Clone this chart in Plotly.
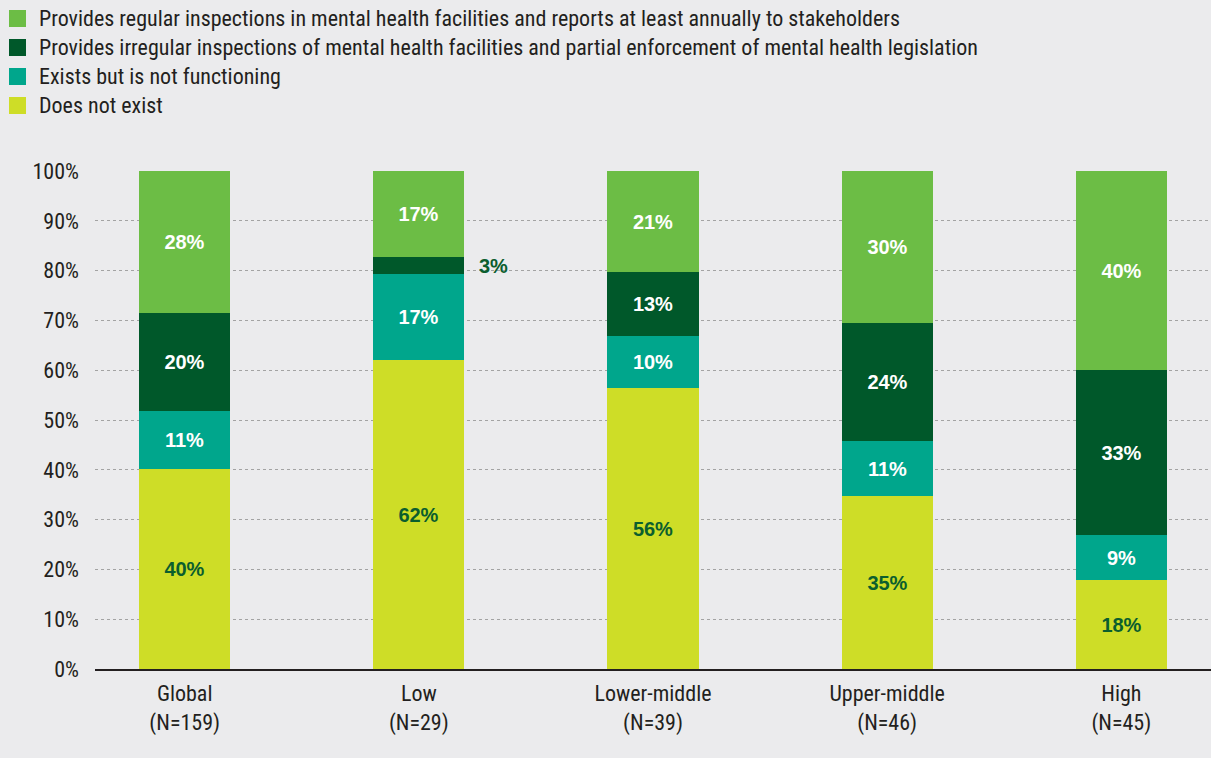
import plotly.graph_objects as go

categories = ["Global<br>(N=159)", "Low<br>(N=29)", "Lower-middle<br>(N=39)",
              "Upper-middle<br>(N=46)", "High<br>(N=45)"]

series_names = [
    "Does not exist",
    "Exists but is not functioning",
    "Provides irregular inspections of mental health facilities and partial enforcement of mental health legislation",
    "Provides regular inspections in mental health facilities and reports at least annually to stakeholders",
]

does_not_exist = [40.2, 62.0, 56.4, 34.7, 17.9]
not_functioning = [11.6, 17.3, 10.5, 11.1, 9.0]
irregular = [19.7, 3.4, 12.8, 23.7, 33.1]
regular = [28.5, 17.3, 20.3, 30.5, 40.0]

labels_dne = ["40%", "62%", "56%", "35%", "18%"]
labels_nf = ["11%", "17%", "10%", "11%", "9%"]
labels_irr = ["20%", "3%", "13%", "24%", "33%"]
labels_reg = ["28%", "17%", "21%", "30%", "40%"]

colors = ["#cedd27", "#00a68c", "#00582a", "#6cbd45"]
text_colors = ["#0b5e2e", "#ffffff", "#ffffff", "#ffffff"]

values = [does_not_exist, not_functioning, irregular, regular]
labels = [labels_dne, labels_nf, labels_irr, labels_reg]

BG = "#ebebed"
TICKFONT = "Liberation Sans Narrow, Roboto Condensed, Arial Narrow, Liberation Sans, sans-serif"
LABELFONT = "Liberation Sans, Arial, Helvetica, sans-serif"

fig = go.Figure()
for i, (name, vals, labs) in enumerate(zip(series_names, values, labels)):
    shown = list(labs)
    if i == 2:
        # the 3% segment of "Low" is labelled outside the bar
        shown[1] = ""
    fig.add_trace(go.Bar(
        x=categories, y=vals, name=name,
        marker=dict(color=colors[i], line=dict(width=0)),
        text=shown, textposition="inside", insidetextanchor="middle",
        textangle=0, constraintext="none",
        textfont=dict(family=LABELFONT, size=20, color=text_colors[i], weight="bold"),
        width=0.389, showlegend=False, hoverinfo="skip",
    ))

# outside label for the small Low segment
fig.add_annotation(
    x=categories[1], y=does_not_exist[1] + not_functioning[1] + irregular[1] / 2,
    text="<b>" + labels_irr[1] + "</b>", showarrow=False, xshift=75,
    font=dict(family=LABELFONT, size=20, color="#0b5e2e"),
)

# manual legend (large squares) in the order shown on the chart
legend_order = [3, 2, 1, 0]
row_h = 29
for k, idx in enumerate(legend_order):
    yc = 18.5 + k * row_h
    fig.add_shape(type="rect", xref="paper", yref="paper",
                  x0=(9 - 95) / 1116, x1=(26 - 95) / 1116,
                  y0=(669 - (yc - 8.5)) / 498, y1=(669 - (yc + 8.5)) / 498,
                  fillcolor=colors[idx], line=dict(width=0))
    fig.add_annotation(xref="paper", yref="paper",
                       x=(37 - 95) / 1116, y=(669 - yc) / 498,
                       xanchor="left", yanchor="middle", showarrow=False,
                       text=series_names[idx],
                       font=dict(family=TICKFONT, size=22, color="#231f20"))

fig.update_layout(
    width=1211, height=758,
    margin=dict(l=95, r=0, t=171, b=89),
    paper_bgcolor=BG, plot_bgcolor=BG,
    barmode="stack", bargap=0,
    showlegend=False,
    font=dict(family=TICKFONT, size=22, color="#231f20"),
    xaxis=dict(
        range=[-0.383, 4.383], showgrid=False, showline=True,
        linecolor="#231f20", linewidth=2, ticks="", zeroline=False,
        tickfont=dict(family=TICKFONT, size=22, color="#231f20"),
        ticklabelstandoff=4,
    ),
    yaxis=dict(
        range=[0, 100], tickvals=list(range(0, 101, 10)),
        ticktext=[f"{v}%" for v in range(0, 101, 10)],
        showgrid=True, gridcolor="#a3a3a3", griddash="dot", gridwidth=1,
        zeroline=False, showline=False, ticks="",
        tickfont=dict(family=TICKFONT, size=22, color="#231f20"),
        ticklabelstandoff=15,
    ),
)

fig.write_html(
    "out.html",
    config={"displayModeBar": False},
    post_script="document.body.style.margin='0';document.body.style.background='#ebebed';",
)
